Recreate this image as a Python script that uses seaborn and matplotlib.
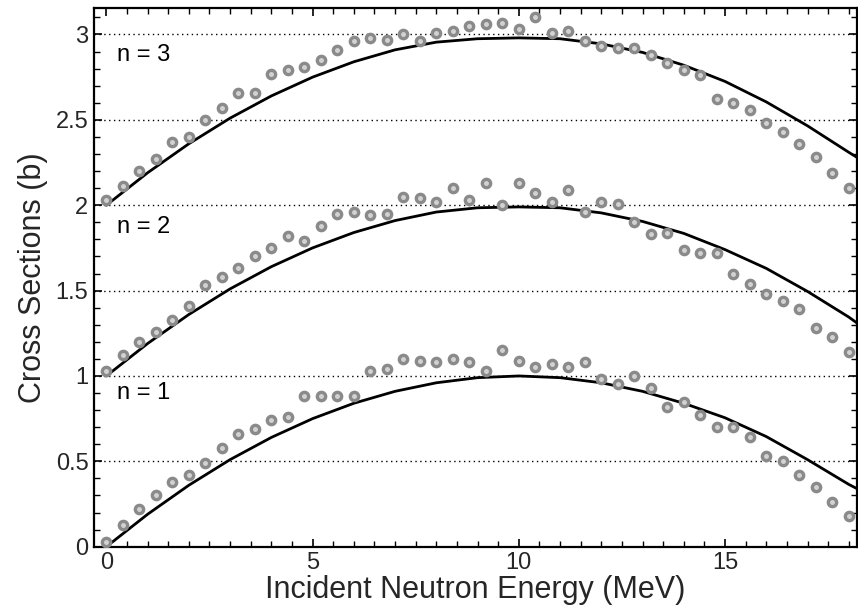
import numpy as np
import pandas as pd
import matplotlib
matplotlib.use("Agg")
import matplotlib.pyplot as plt
from matplotlib.ticker import MultipleLocator
import seaborn as sns

# Measured cross sections, one value every 0.4 MeV
energy = [0.0, 0.4, 0.8, 1.2, 1.6, 2.0, 2.4, 2.8, 3.2, 3.6, 4.0, 4.4, 4.8, 5.2, 5.6,
          6.0, 6.4, 6.8, 7.2, 7.6, 8.0, 8.4, 8.8, 9.2, 9.6, 10.0, 10.4, 10.8, 11.2,
          11.6, 12.0, 12.4, 12.8, 13.2, 13.6, 14.0, 14.4, 14.8, 15.2, 15.6, 16.0,
          16.4, 16.8, 17.2, 17.6, 18.0]

meas_n1 = [0.03, 0.13, 0.22, 0.30, 0.38, 0.42, 0.49, 0.58, 0.66, 0.69, 0.74, 0.76,
           0.88, 0.88, 0.88, 0.88, 1.03, 1.04, 1.10, 1.09, 1.08, 1.10, 1.08, 1.03,
           1.15, 1.09, 1.05, 1.07, 1.05, 1.08, 0.98, 0.95, 1.00, 0.93, 0.82, 0.85,
           0.77, 0.70, 0.70, 0.64, 0.53, 0.50, 0.42, 0.35, 0.26, 0.18]

meas_n2 = [1.03, 1.12, 1.20, 1.26, 1.33, 1.41, 1.53, 1.58, 1.63, 1.70, 1.75, 1.82,
           1.79, 1.88, 1.95, 1.96, 1.94, 1.95, 2.05, 2.04, 2.02, 2.10, 2.03, 2.13,
           2.00, 2.13, 2.07, 2.02, 2.09, 1.96, 2.02, 2.01, 1.90, 1.83, 1.84, 1.74,
           1.72, 1.72, 1.60, 1.54, 1.48, 1.44, 1.39, 1.28, 1.23, 1.14]

meas_n3 = [2.03, 2.11, 2.20, 2.27, 2.37, 2.40, 2.50, 2.57, 2.66, 2.66, 2.77, 2.79,
           2.81, 2.85, 2.91, 2.96, 2.98, 2.97, 3.00, 2.96, 3.01, 3.02, 3.05, 3.06,
           3.07, 3.03, 3.10, 3.01, 3.02, 2.96, 2.93, 2.92, 2.92, 2.88, 2.83, 2.79,
           2.76, 2.62, 2.60, 2.56, 2.48, 2.43, 2.36, 2.28, 2.19, 2.10]

# Calculated curves
curve_energy = [0, 1, 2, 3, 4, 5, 6, 7, 8, 9, 10, 11, 12, 13, 14, 15, 16, 17, 18, 18.2]
calc_n1 = [0.00, 0.19, 0.36, 0.51, 0.64, 0.75, 0.84, 0.91, 0.96, 0.99, 1.00, 0.99,
           0.96, 0.91, 0.84, 0.755, 0.645, 0.51, 0.365, 0.34]
calc_n2 = [1.00, 1.19, 1.36, 1.51, 1.64, 1.75, 1.84, 1.91, 1.96, 1.985, 1.99, 1.985,
           1.955, 1.905, 1.835, 1.74, 1.63, 1.495, 1.345, 1.31]
calc_n3 = [2.00, 2.19, 2.36, 2.51, 2.64, 2.75, 2.84, 2.91, 2.955, 2.975, 2.98, 2.975,
           2.945, 2.895, 2.82, 2.725, 2.605, 2.465, 2.31, 2.28]

series_labels = ["n = 1", "n = 2", "n = 3"]
label_pos_x = [0.25, 0.25, 0.25]
label_pos_y = [0.90, 1.87, 2.88]

meas = pd.DataFrame({
    "E": energy * 3,
    "sigma": meas_n1 + meas_n2 + meas_n3,
    "n": sum([[lab] * len(energy) for lab in series_labels], []),
})
calc = pd.DataFrame({
    "E": curve_energy * 3,
    "sigma": calc_n1 + calc_n2 + calc_n3,
    "n": sum([[lab] * len(curve_energy) for lab in series_labels], []),
})

sns.set_theme(style="white")
plt.rcParams["font.family"] = ["Liberation Sans", "DejaVu Sans"]

fig = plt.figure(figsize=(8.58, 6.10), dpi=100)
ax = fig.add_axes([94 / 858, 1 - 546.7 / 610, 763 / 858, 538.7 / 610])

# horizontal reference lines
for yv in [0, 0.5, 1.0, 1.5, 2.0, 2.5, 3.0]:
    ax.axhline(yv, color="black", lw=1.0, linestyle=(0, (1, 2.5)), zorder=1)

sns.lineplot(data=calc, x="E", y="sigma", units="n", estimator=None,
             color="black", lw=2.0, ax=ax, zorder=3, legend=False)
sns.scatterplot(data=meas, x="E", y="sigma", ax=ax, s=36, color="#d2d2d2",
                edgecolor="#8a8a8a", linewidth=2.4, zorder=4, legend=False)

for lab, lx, ly in zip(series_labels, label_pos_x, label_pos_y):
    ax.text(lx, ly, lab, fontsize=17, va="center", ha="left", color="black")

ax.set_xlim(-0.3, 18.2)
ax.set_ylim(0, 3.155)
ax.xaxis.set_major_locator(MultipleLocator(5))
ax.xaxis.set_minor_locator(MultipleLocator(0.5))
ax.yaxis.set_major_locator(MultipleLocator(0.5))
ax.yaxis.set_minor_locator(MultipleLocator(0.1))
ax.set_yticks([0, 0.5, 1, 1.5, 2, 2.5, 3])
ax.set_yticklabels(["0", "0.5", "1", "1.5", "2", "2.5", "3"])
ax.set_xticks([0, 5, 10, 15])
ax.set_xticklabels(["0", "5", "10", "15"])

ax.tick_params(which="both", direction="in", top=True, right=True,
               bottom=True, left=True, color="black")
ax.tick_params(which="major", length=6, width=1.2, labelsize=17, pad=4)
ax.tick_params(which="minor", length=4, width=1.0)

for sp in ax.spines.values():
    sp.set_color("black")
    sp.set_linewidth(1.6)

ax.set_xlabel("Incident Neutron Energy (MeV)", fontsize=22)
ax.set_ylabel("Cross Sections (b)", fontsize=22)
ax.xaxis.set_label_coords(0.5, -0.052)
ax.yaxis.set_label_coords(-0.06, 0.5)

fig.savefig("out.png", dpi=100)
